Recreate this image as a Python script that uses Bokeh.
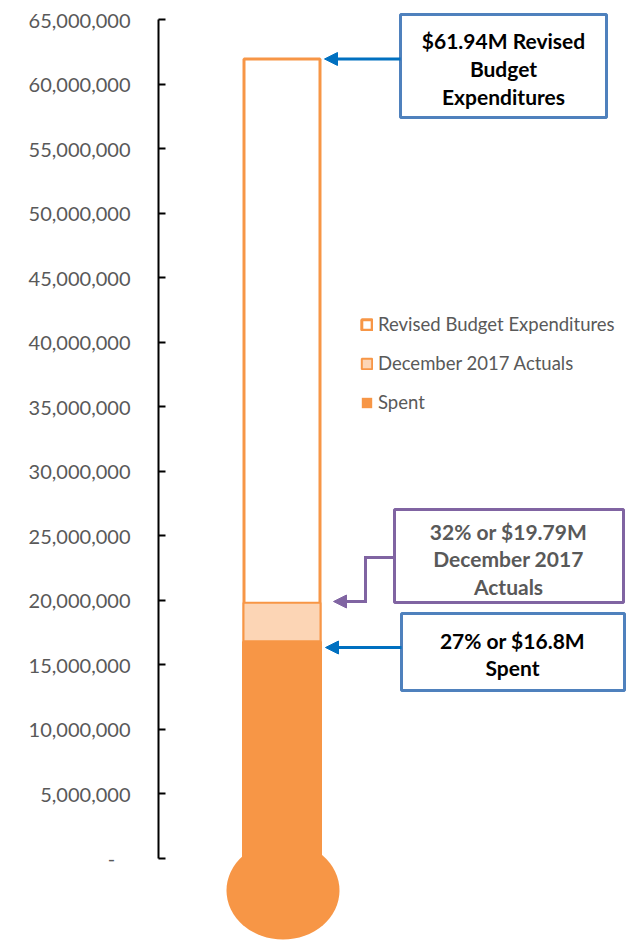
from bokeh.plotting import figure
from bokeh.models import (Range1d, FixedTicker, NumeralTickFormatter, BoxAnnotation,
                          Label, Arrow, NormalHead, Legend, LegendItem)
from bokeh.embed import file_html
from bokeh.resources import INLINE

# ---------------- data ----------------
series_names = ["Revised Budget Expenditures", "December 2017 Actuals", "Spent"]
revised_budget = 61_940_000
december_actuals = 19_790_000
spent = 16_800_000
tick_values = [0, 5_000_000, 10_000_000, 15_000_000, 20_000_000, 25_000_000, 30_000_000,
               35_000_000, 40_000_000, 45_000_000, 50_000_000, 55_000_000, 60_000_000, 65_000_000]
callout_revised = ["$61.94M Revised", "Budget", "Expenditures"]
callout_actuals = ["32% or $19.79M", "December 2017", "Actuals"]
callout_spent = ["27% or $16.8M", "Spent"]

# ---------------- colours ----------------
ORANGE = "#F79646"
LIGHT = "#FCD5B5"
BOX_BLUE = "#4F81BD"
ARROW_BLUE = "#0070C0"
PURPLE = "#8064A2"
GRAY = "#595959"
FONT = "Lato"

# ---------------- layout helpers (page pixels -> data) ----------------
OFF = 0                    # page offset of the figure
W, H = 630, 940
LEFT = 158                 # axis panel width
PAGE_X0 = OFF + LEFT       # page x of frame left (axis line)
ZERO_PY, TOP_PY = 857.5, 19.0
PER_PX = 65_000_000 / (ZERO_PY - TOP_PY)

def X(px):
    return px - PAGE_X0

def Y(py):
    return (ZERO_PY - py) * PER_PX

p = figure(width=W, height=H, output_backend="svg", toolbar_location=None,
           x_range=Range1d(0, W - LEFT), y_range=Range1d(Y(OFF + H), Y(OFF)),
           x_axis_location=None, y_axis_location="left",
           min_border_left=LEFT, min_border_right=0, min_border_top=0, min_border_bottom=0,
           outline_line_color=None, background_fill_color="white")
p.grid.visible = False

ax = p.yaxis[0]
ax.bounds = (tick_values[0], tick_values[-1])
ax.ticker = FixedTicker(ticks=tick_values)
ax.formatter = NumeralTickFormatter(format="0,0")
ax.major_label_overrides = {0: "-\u00a0\u00a0\u00a0"}
ax.axis_line_color = "black"
ax.axis_line_width = 2
ax.major_tick_line_color = "black"
ax.major_tick_line_width = 2
ax.major_tick_in = 7
ax.major_tick_out = 0
ax.minor_tick_line_color = None
ax.major_label_standoff = 28
ax.major_label_text_font = FONT
ax.major_label_text_font_size = "20px"
ax.major_label_text_color = GRAY

# ---------------- thermometer ----------------
bar_x = X(281.5)
bulb = p.ellipse(x=[bar_x + 1], y=[Y(890)], width=113, height=98,
                 width_units="screen", height_units="screen",
                 fill_color=ORANGE, line_color=None)
r_rev = p.vbar(x=[bar_x], width=76, bottom=[0], top=[revised_budget],
               fill_color="white", line_color=ORANGE, line_width=3)
r_dec = p.vbar(x=[bar_x], width=77, bottom=[spent], top=[december_actuals],
               fill_color=LIGHT, line_color=ORANGE, line_width=2)
r_spent = p.vbar(x=[bar_x], width=80, bottom=[Y(870)], top=[spent],
                 fill_color=ORANGE, line_color=None)

legend = Legend(items=[LegendItem(label=series_names[0], renderers=[r_rev]),
                       LegendItem(label=series_names[1], renderers=[r_dec]),
                       LegendItem(label=series_names[2], renderers=[r_spent])],
                location=(360 - PAGE_X0, OFF + H - 413), padding=0, margin=0, spacing=17,
                glyph_width=13, glyph_height=13, label_height=20, label_standoff=5,
                label_text_font=FONT, label_text_font_size="18.5px", label_text_color=GRAY,
                border_line_color=None, background_fill_alpha=0)
p.add_layout(legend)

# ---------------- callouts ----------------
def box(l, r, t, b, color):
    p.add_layout(BoxAnnotation(left=X(l), right=X(r), top=Y(t), bottom=Y(b),
                               fill_color="white", fill_alpha=1,
                               line_color=color, line_width=3, line_alpha=1))

def lines(texts, cx, ys, color):
    for t, yy in zip(texts, ys):
        p.add_layout(Label(x=X(cx), y=Y(yy), text=t, text_align="center",
                           text_baseline="middle", text_font=FONT,
                           text_font_size="21px", text_font_style="bold",
                           text_color=color))

def arrow(x0, x1, yv, color):
    p.add_layout(Arrow(end=NormalHead(size=13, fill_color=color, line_color=color, line_width=1),
                       x_start=X(x0), x_end=X(x1), y_start=yv, y_end=yv,
                       line_color=color, line_width=3))

# revised budget
box(400, 606, 14, 117, BOX_BLUE)
lines(callout_revised, 503, [40, 68, 96], "black")
arrow(400, 324, revised_budget, ARROW_BLUE)

# december actuals
box(394, 623, 509, 602, PURPLE)
lines(callout_actuals, 508, [531, 558, 586], GRAY)
p.line(x=[X(394), X(365), X(365)], y=[Y(557), Y(557), Y(601)],
       line_color=PURPLE, line_width=3, line_join="miter")
arrow(366.5, 333, Y(601), PURPLE)

# spent
box(401, 624, 613, 690, BOX_BLUE)
lines(callout_spent, 512, [640, 667], "black")
arrow(401, 325, Y(647), ARROW_BLUE)

open("out.html", "w").write(file_html(p, INLINE))
